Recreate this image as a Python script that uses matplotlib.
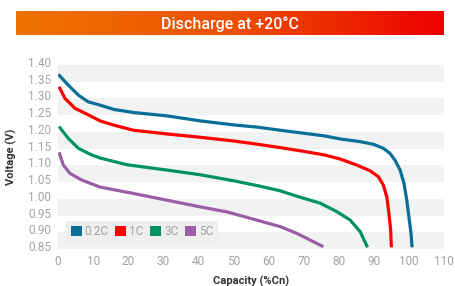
import numpy as np
import matplotlib
matplotlib.use("Agg")
import matplotlib.pyplot as plt
import matplotlib.transforms as mtransforms
from matplotlib.colors import LinearSegmentedColormap
from matplotlib.patches import Patch

plt.rcParams['font.family'] = ['Roboto', 'DejaVu Sans']

title = "Discharge at +20°C"
series_names = ["0.2C", "1C", "3C", "5C"]
colors = ["#0b6e96", "#fe0000", "#00925f", "#9a5ea6"]

# capacity (%Cn) / voltage (V)
cap_02c = [0.1, 2.9, 5.8, 8.6, 12, 16, 21.5, 31, 40.5, 50, 57, 63.3, 70, 76, 80.4, 86.1,
           89.9, 92.7, 94.6, 96.0, 97.5, 98.6, 99.4, 100.0, 100.6, 100.9]
volt_02c = [1.372, 1.340, 1.310, 1.290, 1.280, 1.267, 1.258, 1.248, 1.233, 1.221, 1.214,
            1.205, 1.196, 1.188, 1.179, 1.171, 1.163, 1.151, 1.136, 1.116, 1.086, 1.046,
            0.996, 0.946, 0.897, 0.855]

cap_1c = [0.3, 2, 4.8, 8.6, 12, 16, 21.5, 31, 40.5, 50, 57, 63.3, 70, 76, 80.4, 85.1,
          88.9, 91.3, 92.7, 93.7, 94.3, 94.8, 95.0]
volt_1c = [1.335, 1.300, 1.271, 1.251, 1.233, 1.220, 1.205, 1.194, 1.184, 1.173, 1.163,
           1.153, 1.142, 1.131, 1.119, 1.101, 1.084, 1.066, 1.041, 1.006, 0.957, 0.907,
           0.855]

cap_3c = [0.3, 2.9, 5.8, 9.6, 12, 19.6, 31, 40.5, 50, 57, 63.3, 68.0, 74.7, 79.4, 83.2,
          86.1, 88.2]
volt_3c = [1.216, 1.181, 1.151, 1.131, 1.122, 1.102, 1.086, 1.072, 1.054, 1.039, 1.024,
           1.008, 0.987, 0.962, 0.937, 0.902, 0.855]

cap_5c = [0.3, 1.5, 3.4, 6.8, 12, 21.5, 31, 40.5, 48.1, 54.7, 63.3, 68, 75.6]
volt_5c = [1.139, 1.101, 1.076, 1.056, 1.035, 1.016, 0.996, 0.976, 0.961, 0.942, 0.917,
           0.897, 0.857]

caps = [cap_02c, cap_1c, cap_3c, cap_5c]
volts = [volt_02c, volt_1c, volt_3c, volt_5c]

x_ticks = np.arange(0, 111, 10)
y_ticks = np.round(np.arange(0.85, 1.401, 0.05), 2)

fig = plt.figure(figsize=(4.55, 2.86), dpi=100)

# title banner with orange->red gradient
bax = fig.add_axes([16 / 455, 1 - 35 / 286, 428 / 455, 24 / 286])
grad = LinearSegmentedColormap.from_list("banner", ["#ef7400", "#ec5000", "#ee0000"])
bax.imshow(np.linspace(0, 1, 256)[None, :], aspect="auto", cmap=grad,
           extent=[0, 1, 0, 1])
bax.set_axis_off()
bax.text(0.5, 0.47, title, color="white", fontsize=11.5, fontweight="medium",
         ha="center", va="center", transform=bax.transAxes)

ax = fig.add_axes([58 / 455, 37 / 286, 386 / 455, 184 / 286])
ax.set_xlim(0, 110)
ax.set_ylim(0.85, 1.40)

# alternating shaded bands
for i in range(0, len(y_ticks) - 1, 2):
    ax.axhspan(y_ticks[i], y_ticks[i + 1], color="#f1f2f2", lw=0, zorder=0)

for c, v, col in zip(caps, volts, colors):
    ax.plot(c, v, color=col, lw=2.3, solid_capstyle="butt", solid_joinstyle="round", zorder=3)

ax.set_xticks(x_ticks)
ax.set_yticks(y_ticks)
ax.set_yticklabels(["%.2f" % t for t in y_ticks])
ax.tick_params(length=0, labelsize=8.5, labelcolor="#a3a3a3")
ax.tick_params(axis="y", pad=5)
ax.tick_params(axis="x", pad=4)
shift = mtransforms.ScaledTranslation(0, 3 / 100, fig.dpi_scale_trans)
for lab in ax.get_yticklabels():
    lab.set_transform(lab.get_transform() + shift)
for s in ax.spines.values():
    s.set_visible(False)

ax.set_xlabel("Capacity (%Cn)", fontsize=8, fontweight="bold", color="#333333", labelpad=6)
ax.set_ylabel("Voltage (V)", fontsize=8, fontweight="bold", color="#333333", labelpad=8)

handles = [Patch(facecolor=col, edgecolor="none") for col in colors]
leg = ax.legend(handles, series_names, loc="lower left", bbox_to_anchor=(0.022, 0.035),
                ncol=4, fontsize=8.5, frameon=True, fancybox=False, handlelength=0.95,
                handleheight=0.95, handletextpad=0.25, columnspacing=0.55,
                borderpad=0.35, borderaxespad=0)
leg.get_frame().set_facecolor("#efefef")
leg.get_frame().set_edgecolor("none")
leg.get_frame().set_alpha(1)
for t in leg.get_texts():
    t.set_color("#a3a3a3")

fig.savefig("out.png", dpi=100)
